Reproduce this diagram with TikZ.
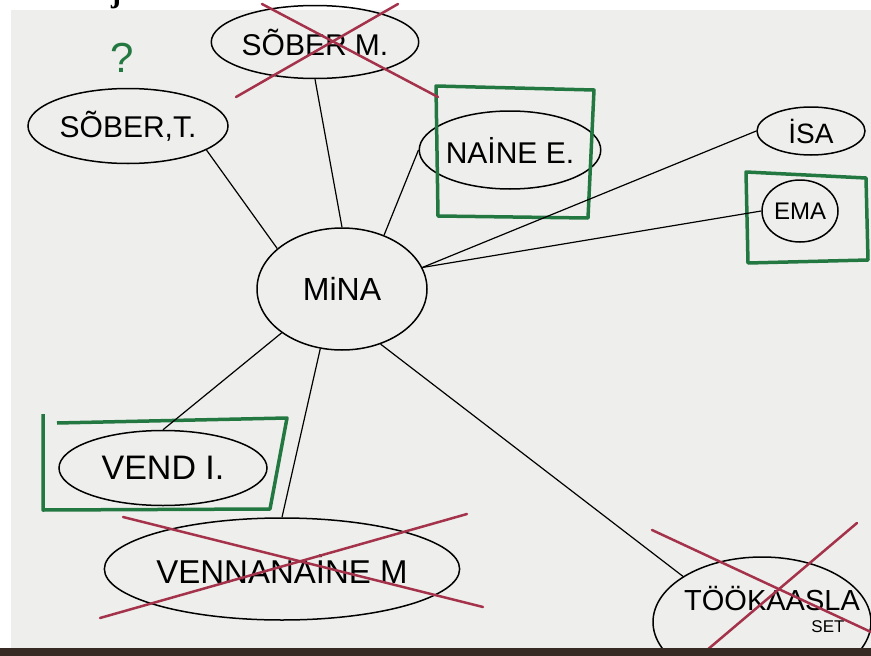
\documentclass[tikz,border=0pt]{standalone}
\usepackage{fontspec}
\newfontfamily\handfont{Liberation Sans}
\newfontfamily\printfont{Liberation Serif}
\usetikzlibrary{shapes.geometric}
\definecolor{paper}{RGB}{238,238,236}
\definecolor{marker}{RGB}{35,120,65}
\definecolor{cross}{RGB}{165,50,75}
\definecolor{tabletop}{RGB}{55,42,36}

\begin{document}
\begin{tikzpicture}[
    x=1pt, y=-1pt,
    oval/.style={draw, ellipse, line width=1.5pt, inner sep=0pt},
    hand/.style={font=\handfont\fontsize{#1}{#1}\selectfont},
    link/.style={draw, line width=1.2pt},
    greenbox/.style={draw=marker, line width=3.5pt, line join=round},
    strike/.style={draw=cross, line width=2.5pt, line cap=round}
  ]
  \useasboundingbox (0,0) rectangle (871,656);
  \fill[white] (0,0) rectangle (871,656);
  \fill[paper] (11,10) rectangle (871,648);
  \node[anchor=base, font=\printfont\bfseries\fontsize{30}{30}\selectfont] (cut) at (116,2) {j};

  \node[oval, hand=30, minimum width=200, minimum height=75] (sobt) at (128,126) {SÕBER,T.};
  \node[hand=42, text=marker] (ask) at (122,58) {?};
  \node[oval, hand=30, minimum width=200, minimum height=73] (sobm) at (315,42) {SÕBER M.};
  \node[oval, hand=30, minimum width=148, minimum height=78] (naine) at (510,150) {NAİNE E.};
  \node[oval, hand=28, minimum width=108, minimum height=48] (isa) at (811,131) {İSA};
  \node[oval, hand=24, minimum width=76, minimum height=62] (ema) at (800,211) {EMA};
  \node[oval, hand=32, minimum width=170, minimum height=122] (mina) at (342,289) {MiNA};
  \node[oval, hand=34, minimum width=208, minimum height=75] (vend) at (163,468) {VEND I.};
  \node[oval, hand=33, minimum width=323, minimum height=102] (venn) at (282,569) {VENNANAİNE M};
  \node[oval, minimum width=218, minimum height=130] (tk) at (762,622) {};
  \node[hand=29] (tkname) at (772,598) {TÖÖKAASLA};
  \node[hand=17] (tkend) at (828,627) {SET};

  % frames round the kept ones
  \draw[greenbox] (436,86) -- (594,90) -- (588,218) -- (438,216) -- cycle;
  \draw[greenbox] (746,172) -- (866,178) -- (868,260) -- (748,263) -- cycle;
  \draw[greenbox] (43,414) -- (43,510) -- (270,509) -- (287,418) -- (57,423);

  \draw[link] (sobt.-17) -- (mina.148);
  \draw[link] (sobm.south) -- (mina.north);
  \draw[link] (naine.west) -- (mina.52);
  \draw[link] (mina.15) -- (isa.west);
  \draw[link] (mina.15) -- (ema.west);
  \draw[link] (mina.216) -- (vend.north);
  \draw[link] (mina.250) -- (venn.north);
  \draw[link] (mina.305) -- (tk.150);

  % crossed out
  \draw[strike] (236,97) -- (398,4);
  \draw[strike] (262,4) -- (438,97);
  \draw[strike] (123,517) -- (483,607);
  \draw[strike] (100,618) -- (467,514);
  \draw[strike] (652,530) -- (871,632);
  \draw[strike] (857,523) -- (700,656);

  \fill[tabletop] (0,648) rectangle (871,656);
\end{tikzpicture}
\end{document}
